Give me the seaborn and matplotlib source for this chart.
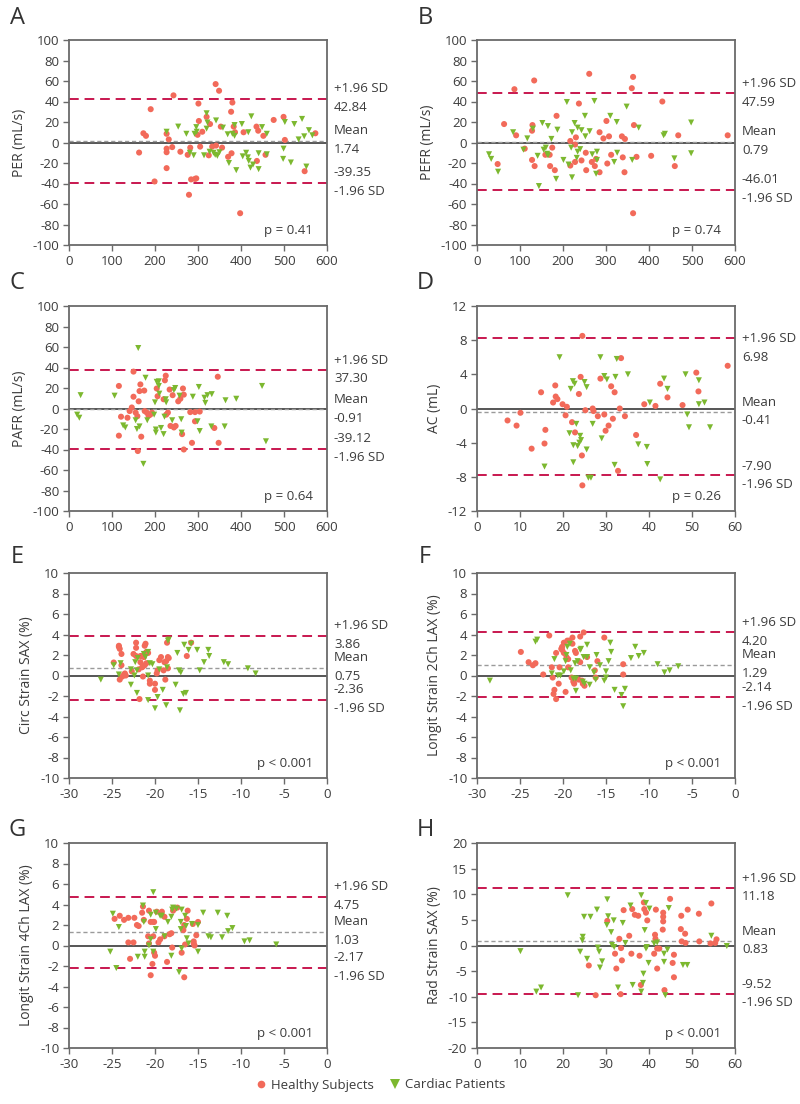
import numpy as np
import pandas as pd
import matplotlib
matplotlib.use("Agg")
import matplotlib.pyplot as plt
import matplotlib.transforms as mtransforms
from matplotlib.lines import Line2D
import seaborn as sns

# ---- panel A: PER ----
a_healthy_x = [163,173,179,190,199,227,227,227,227,232,240,243,259,276,279,282,284,293,296,299,301,302,305,310,320,325,328,333,341,342,349,353,356,370,377,378,380,383,386,398,406,436,437,440,452,457,476,499,502,548,573]
a_healthy_y = [-9.8,9,6.5,32.5,-38,8.5,-6,-9.5,-25,3,-4.5,46,-9,-12,-51,-5,-36,-35.5,-35,7.5,38,21,-4,10.5,25,-12.5,18,-4,57,-3,50.5,15.5,-5,-14,30,-10.5,39,15.5,10,-69,10,15.5,-18,11.5,6.5,-12,22,25,2.5,-28,9]
a_cardiac_x = [227,254,273,281,290,292,296,297,314,320,320,322,327,336,340,342,345,350,358,369,372,380,385,385,389,402,404,412,416,417,418,422,424,428,441,441,449,460,460,499,498,502,516,524,534,542,547,558,566,552]
a_cardiac_y = [10.5,15.5,8.5,-10,-12.5,8.5,15,10.5,-12.5,28.5,13.5,19.5,-9,-10,-12,21.5,-13,-9.5,14.5,8,-20,8.5,17,6.5,-27,18,-13.5,-10,-14.5,10,-18,-24.5,25.5,-21.5,-10.5,-26,15,-11.5,8.5,-6,-16,20,-19.5,18,3,23,6,12,7,-23.5]

# ---- panel B: PEFR ----
b_healthy_x = [48,63,87,91,111,128,129,128,133,134,159,169,170,175,181,185,217,217,228,228,230,237,243,253,254,261,267,274,277,285,285,294,301,303,307,312,337,339,344,343,360,363,363,365,371,405,431,460,468,583]
b_healthy_y = [-21,18,52,7,-6,11.5,17,-17,60.5,-23,-12,-12,-23,-5,-27,26,1.5,-22.5,-2,-19,5,38,-17.5,-10,-27,67,-19,-23,-16,10,-29,4,21,-20.5,6,-12,6,-14.5,3.5,-29,53,64,-69,17,-14,-13,40,-23,7,7]
b_cardiac_x = [28,33,49,84,108,117,130,152,155,160,165,165,163,144,141,173,184,187,201,209,213,219,221,221,227,232,234,234,240,243,251,252,262,268,273,279,279,277,310,325,326,319,348,361,376,434,437,459,498,498]
b_cardiac_y = [-11.5,-16,-28.5,10,-7,4,13.5,19,-7,-5,16,-12.5,-11,-42.5,-13,3.5,-35.5,12.5,-17,39.5,-21.5,-5,10,-34,19,-15,14.5,-9,-6.5,12,26,6,11,-11.5,40.5,-9,-17,-30.5,26,20,-10,-19,35,-17,14.5,7,8.5,-15.5,19.5,-10.5]

# ---- panel C: PAFR ----
c_healthy_x = [116,116,121,136,141,146,150,150,155,159,160,162,164,166,168,175,176,181,185,189,193,204,206,220,223,225,226,230,234,236,241,244,248,254,259,263,265,267,267,282,286,293,293,304,338,346,348]
c_healthy_y = [22,-26.5,-8,-9,-2.5,1,11.5,36,-4,-7.5,-41.5,7,17,23.5,-27.5,17.5,-2.5,-4,-7,-6,-4,19.5,12,9,27.5,32,-6,-4,18.5,-17,13,-18.5,-17,7,9.5,-25,19.5,13.5,-40,-3.5,-33.5,-12.5,-3.5,-3,-19,31,-33.5]
c_cardiac_x = [19,24,27,106,126,131,155,158,161,164,173,178,182,198,200,202,202,204,209,209,210,214,220,222,225,226,240,244,247,257,261,262,288,299,302,304,315,317,322,332,331,362,364,389,449,458]
c_cardiac_y = [-6,-9,13,12.5,-16.5,-18.5,-11.5,-20,59,-17.5,-54,30,-11.5,-6,6,-20.5,-23.5,26,26.5,22,14.5,-19,-25,-8,9,6,-11.5,18,20,12.5,-10.5,-23.5,11.5,-12.5,21,-22,10.5,5.5,13,14,-17.5,-17.5,8,9.5,22,-32]

# ---- panel D: AC ----
d_healthy_x = [7.1,9.2,10.1,12.7,14.9,15.7,15.9,17.7,18.2,18.3,18.7,19.9,20.6,20.9,22.1,22.8,23.7,24.1,24.4,24.5,24.5,25.2,26.9,27.1,28.1,28.7,29.6,29.9,30.6,31.2,31.6,32,32.8,33.2,33.5,34.4,37,38.9,41.5,42.6,44.3,47.8,51,51.5,58.3]
d_healthy_y = [-1.4,-2,-0.5,-4.7,1.9,-4.1,-2.5,0.7,2.7,1.4,1.1,0.5,-0.8,0.2,-1.6,-2.8,1.7,3.7,-5.5,8.5,-9,-0.2,0,-0.3,-0.9,3.5,-0.7,-2.6,-2,2.6,-1.2,1.9,-7.3,0,5.9,-0.9,-3.1,0.5,0.3,2.9,1.3,0.4,4.2,2,5]
d_cardiac_x = [15.7,19.2,21.5,21.8,22.3,22.4,22.4,22.7,23.1,23.4,23.8,24,24.2,25,25.5,25.5,25.9,26.5,26.9,28.7,29,29.6,30.2,32,32.2,32.5,35.1,37.5,39.5,39.6,40.2,42.6,43.5,44.3,48.5,48.9,49.3,51.6,51.6,52.9,54.2]
d_cardiac_y = [-6.8,6,-2.9,2.3,3.2,-6.3,-4.3,2.9,-1.8,-4.4,-4,-3.2,-3.7,3.1,2.5,-4.8,-8.1,-8.1,-1.8,6,-3.5,3.8,3.4,-6.6,3.7,5.8,4,-4.2,-4.5,-6.5,0.7,-8.3,3.5,2.3,4,-0.7,-2.2,3.3,0.5,0.7,-2.2]

# ---- panel E: circ strain SAX ----
e_healthy_x = [-24.8,-24.2,-24.2,-24.1,-24.1,-23.9,-23.9,-23.8,-23.6,-23.5,-23.4,-22.7,-22.5,-22.2,-22.2,-22.2,-21.9,-21.8,-21.7,-21.7,-21.5,-21.5,-21.4,-21.4,-21.3,-21.2,-21.2,-21.1,-21.0,-21.0,-20.8,-20.6,-20.6,-20.0,-20.0,-19.8,-19.7,-19.5,-19.3,-19.0,-18.9,-18.8,-18.7,-18.6,-18.5,-18.5,-18.4,-16.3,-15.8]
e_healthy_y = [1.27,2.8,2.9,2.6,-0.4,2.1,1.0,-0.1,0.1,0.2,0,0.4,2.1,1.9,2.7,3.2,0.6,-2.3,1.9,1.3,0.8,1.9,0.9,-0.1,1.8,2.9,1.0,3.1,2.3,1.2,2.2,-0.5,-0.8,-0.8,-1.4,0.2,0.5,1.5,1.8,0.5,1.3,-0.4,1.4,3.2,1.8,0.7,1.7,1.9,3.2]
e_cardiac_x = [-26.3,-24.8,-24.2,-24.0,-22.8,-22.8,-22.4,-22.3,-22.1,-22.1,-22.0,-21.3,-21.1,-20.8,-20.8,-20.8,-20.6,-20.3,-20.0,-19.7,-19.5,-19.1,-18.7,-18.6,-18.5,-18.4,-17.6,-17.4,-17.2,-17.0,-17.1,-16.7,-16.6,-16.4,-16.1,-15.8,-15.1,-14.8,-14.3,-13.8,-13.7,-12.0,-11.5,-9.2,-8.3]
e_cardiac_y = [-0.4,1.0,0.1,1.2,0.6,-0.9,0,1.3,-1.7,0.5,1.7,2.1,1.8,0,-2.4,2.3,1.2,1.1,-3.2,-2.1,0.6,-1.4,-2.9,0.8,3.4,3.5,-0.9,2.2,0.5,0.3,-3.4,-1.8,3.0,-1.7,2.5,3.1,2.5,0.5,1.3,2.5,1.9,1.3,1.1,0.7,0.2]

# ---- panel F: longit strain 2Ch LAX ----
f_healthy_x = [-24.9,-24.0,-23.5,-23.2,-22.3,-21.6,-21.3,-21.2,-21.1,-21.0,-20.8,-20.8,-20.5,-20.4,-20.2,-20.1,-20.1,-19.9,-19.9,-19.7,-19.6,-19.5,-19.4,-19.4,-19.3,-18.9,-18.9,-19.0,-18.8,-18.7,-18.6,-18.5,-18.2,-18.0,-18.0,-17.8,-17.7,-17.6,-17.5,-17.2,-16.3,-16.2,-16.0,-15.2,-13.0,-13.0]
f_healthy_y = [2.3,1.3,1.0,1.2,0.1,3.9,0.8,-0.2,-1.8,-1.4,-2.3,2.2,-0.8,0.8,2.6,2.5,2.8,2.2,3.2,-1.6,1.8,3.4,1.6,0.8,3.4,3.7,3.1,-0.2,-0.6,-0.8,2.4,2.2,-0.4,1.3,3.8,-0.5,-0.8,4.2,-1.0,1.8,0.5,-0.2,1.4,3.7,1.1,0.1]
f_cardiac_x = [-28.5,-23.2,-23.0,-21.3,-21.0,-20.6,-20.3,-19.9,-19.7,-19.6,-19.5,-19.2,-19.1,-18.8,-18.6,-18.5,-18.5,-18.3,-18.0,-17.9,-17.7,-17.6,-17.5,-17.2,-17.2,-16.9,-16.9,-16.4,-16.2,-16.1,-15.7,-15.2,-15.0,-15.0,-14.7,-14.5,-14.4,-14.0,-13.2,-13.0,-12.8,-12.1,-11.6,-11.2,-10.6,-9.0,-8.2,-7.6,-6.6]
f_cardiac_y = [-0.5,3.3,3.5,0.2,1.6,0,0,0.4,1.4,2.0,2.8,3.1,0.5,-0.3,1.2,-1.5,-0.3,1.4,2.5,2.6,-0.6,1.8,-0.8,1.8,3.0,0.8,-0.9,0.3,-0.4,2.0,1.0,-0.5,-0.2,0.4,1.4,3.2,2.3,-1.4,-1.9,-3.0,-1.3,1.7,2.8,1.9,2.2,1.1,0.3,0.5,0.9]

# ---- panel G: longit strain 4Ch LAX ----
g_healthy_x = [-24.7,-24.1,-23.6,-23.1,-23.1,-22.9,-22.5,-22.4,-22.1,-21.9,-21.5,-21.4,-21.3,-20.8,-20.7,-20.7,-20.5,-20.5,-20.3,-20.2,-20.2,-20.1,-20.1,-20.0,-19.8,-19.6,-19.4,-19.2,-18.9,-18.9,-18.6,-18.3,-18.1,-18.0,-17.9,-17.8,-17.4,-16.9,-16.7,-16.6,-16.6,-16.5,-16.3,-16.2,-15.6,-15.5,-15.5,-15.4,-15.2,-15.0]
g_healthy_y = [2.6,2.9,2.5,2.7,0.3,-1.3,0.3,2.7,2.0,1.9,3.2,3.8,2.5,0.9,3.4,0.2,2.3,-2.9,-1.8,0.9,2.3,2.3,-0.7,-1.0,3.3,0.3,0.6,3.3,2.8,0.9,-1.6,1.1,1.2,-0.2,3.4,3.6,3.7,-0.7,1.5,-3.1,2.0,0.1,2.6,3.4,2.1,0.2,0.4,0,1.0,2.3]
g_cardiac_x = [-25.2,-24.9,-24.5,-24.2,-22.0,-21.4,-21.3,-21.2,-21.2,-20.7,-20.5,-20.5,-20.2,-20.2,-19.9,-19.9,-19.4,-19.2,-18.9,-18.5,-18.1,-18.1,-18.0,-17.9,-17.5,-17.2,-16.9,-16.9,-17.0,-17.0,-16.5,-16.4,-16.3,-16.1,-15.7,-15.0,-15.0,-14.4,-13.8,-13.5,-12.7,-12.2,-11.6,-11.5,-11.0,-9.6,-9.0,-5.9]
g_cardiac_y = [-0.6,3.1,-2.2,1.8,-1.1,3.9,2.3,-0.6,-1.1,0,3.0,0.6,5.2,-0.6,1.6,3.2,2.9,2.9,0.9,2.3,-1.0,2.8,3.5,3.7,3.6,-2.6,3.5,-0.3,2.3,1.6,2.9,1.9,0.7,0.2,2.1,2.0,-0.6,3.2,0.9,0.8,3.2,0.8,2.9,1.4,1.7,0.4,0.5,0.1]

# ---- panel H: rad strain SAX ----
h_healthy_x = [26,27.6,30.3,32.4,33.1,33.4,33.5,33.7,32.1,34.1,35.4,35.9,36.1,36.7,37.5,37.8,38.1,38.8,38.9,39.3,39.6,41.2,41.4,41.5,41.6,41.9,41.9,42.4,43.3,43.3,43.3,43.2,43.6,44.9,45.5,45.8,45.8,47.5,47.4,47.6,48.4,48.5,49.0,51.7,51.6,54.3,54.5,55.4,55.7]
h_healthy_y = [-3.9,-9.7,4.8,-4.5,1.3,-9.5,-0.5,-2.9,-1.6,6.9,1.9,-1.6,7.1,6.0,5.8,-2,-7.7,8.4,7.1,6.4,4.9,-1.6,2.1,1.3,7.0,-4.5,-0.6,-0.6,6.4,5.6,4.7,3.1,-8.7,9.1,-3.4,-1.8,-6.2,5.8,3.2,0.8,2.3,0.5,7.0,0.8,6.2,0.4,8.2,0.5,1.2]
h_cardiac_x = [10.1,13.8,14.9,21.1,23.5,24,24.5,24.6,24.9,25.6,26.4,27.9,28.1,28.4,28.6,29.1,30.2,30.3,30.5,31.2,31.4,31.8,31.9,32.8,33.9,34.5,35.7,36.2,38.2,38.6,38.2,38.7,39.0,39.3,39.3,39.5,39.9,40.1,41.2,41.9,43.5,43.5,43.8,44.3,44.6,47.9,48.9,54.5,58.1]
h_cardiac_y = [-1.1,-9,-8.2,9.8,-9.7,-1.2,1.0,1.7,5.6,-2.6,5.6,7.0,-0.4,-1.2,-4.3,-3.1,4.0,9,5.7,2.6,0.1,4.9,-0.3,-8.2,4.4,0.5,7.8,-7.7,9.8,-7.3,-9,-5.5,3.0,8.3,-0.6,-0.3,-3.4,7.2,0.4,0.6,-1.6,-3.2,-9.7,-0.8,7.3,-3.8,-3.8,1.9,-0.1]

# ---- panel settings / stats ----
letters = ["A", "B", "C", "D", "E", "F", "G", "H"]
ylabels = ["PER (mL/s)", "PEFR (mL/s)", "PAFR (mL/s)", "AC (mL)",
           "Circ Strain SAX (%)", "Longit Strain 2Ch LAX (%)",
           "Longit Strain 4Ch LAX (%)", "Rad Strain SAX (%)"]
xlims = [(0, 600), (0, 600), (0, 600), (0, 60), (-30, 0), (-30, 0), (-30, 0), (0, 60)]
xsteps = [100, 100, 100, 10, 5, 5, 5, 10]
ylims = [(-100, 100), (-100, 100), (-100, 100), (-12, 12), (-10, 10), (-10, 10), (-10, 10), (-20, 20)]
ysteps = [20, 20, 20, 4, 2, 2, 2, 5]
upper_line = [42.84, 48.5, 37.3, 8.2, 3.86, 4.2, 4.75, 11.18]
mean_line = [1.74, 0.79, -0.91, -0.41, 0.75, 1.07, 1.36, 0.83]
lower_line = [-39.35, -46.01, -39.12, -7.8, -2.36, -2.14, -2.17, -9.52]
upper_text = ["42.84", "47.59", "37.30", "6.98", "3.86", "4.20", "4.75", "11.18"]
mean_text = ["1.74", "0.79", "-0.91", "-0.41", "0.75", "1.29", "1.03", "0.83"]
lower_text = ["-39.35", "-46.01", "-39.12", "-7.90", "-2.36", "-2.14", "-2.17", "-9.52"]
p_text = ["p = 0.41", "p = 0.74", "p = 0.64", "p = 0.26",
          "p < 0.001", "p < 0.001", "p < 0.001", "p < 0.001"]

healthy = [(a_healthy_x, a_healthy_y), (b_healthy_x, b_healthy_y), (c_healthy_x, c_healthy_y), (d_healthy_x, d_healthy_y),
           (e_healthy_x, e_healthy_y), (f_healthy_x, f_healthy_y), (g_healthy_x, g_healthy_y), (h_healthy_x, h_healthy_y)]
cardiac = [(a_cardiac_x, a_cardiac_y), (b_cardiac_x, b_cardiac_y), (c_cardiac_x, c_cardiac_y), (d_cardiac_x, d_cardiac_y),
           (e_cardiac_x, e_cardiac_y), (f_cardiac_x, f_cardiac_y), (g_cardiac_x, g_cardiac_y), (h_cardiac_x, h_cardiac_y)]

RED = "#F26A5A"
GREEN = "#7CB82F"
LOA = "#C8174F"
AXC = "#6A6A6A"
TXT = "#3C3C3C"

sns.set_theme(style="ticks")
plt.rcParams['font.family'] = ['Open Sans', 'DejaVu Sans']
plt.rcParams['axes.unicode_minus'] = False

fig = plt.figure(figsize=(8, 11.04), dpi=100)

col_left = [69 / 800, 477 / 800]
row_top = [40, 306, 573, 843]
letter_y = [18, 283, 557, 830]
W, H = 258 / 800, 205 / 1104

for i in range(8):
    r, c = i // 2, i % 2
    ax = fig.add_axes([col_left[c], 1 - (row_top[r] + 205) / 1104, W, H])

    hx, hy = healthy[i]
    cx, cy = cardiac[i]
    df = pd.concat([
        pd.DataFrame({"x": hx, "y": hy, "group": "Healthy Subjects"}),
        pd.DataFrame({"x": cx, "y": cy, "group": "Cardiac Patients"}),
    ])

    # zero, mean and limits of agreement
    ax.axhline(0, color="#555555", lw=1.4, zorder=1)
    ax.axhline(mean_line[i], color="#9A9A9A", lw=1.0, ls=(0, (3, 2)), zorder=1)
    ax.axhline(upper_line[i], color=LOA, lw=1.4, ls=(0, (5, 3)), zorder=1)
    ax.axhline(lower_line[i], color=LOA, lw=1.4, ls=(0, (5, 3)), zorder=1)

    sns.scatterplot(data=df, x="x", y="y", hue="group", style="group",
                    palette={"Healthy Subjects": RED, "Cardiac Patients": GREEN},
                    markers={"Healthy Subjects": "o", "Cardiac Patients": "v"},
                    s=19, linewidth=0, legend=False, ax=ax, zorder=3)

    ax.set_xlim(*xlims[i])
    ax.set_ylim(*ylims[i])
    ax.set_xticks(np.arange(xlims[i][0], xlims[i][1] + 0.1, xsteps[i]))
    ax.set_yticks(np.arange(ylims[i][0], ylims[i][1] + 0.1, ysteps[i]))
    ax.set_xlabel("")
    ax.set_ylabel(ylabels[i], fontsize=10, color=TXT, labelpad=4)
    ax.tick_params(axis="both", direction="out", length=4, width=1, color=AXC,
                   labelsize=9.5, labelcolor=TXT, pad=3)
    for sp in ax.spines.values():
        sp.set_visible(True)
        sp.set_color(AXC)
        sp.set_linewidth(1.3)

    trans = mtransforms.blended_transform_factory(ax.transAxes, ax.transData)
    kw = dict(xycoords=trans, textcoords="offset points", fontsize=9.5, color=TXT,
              ha="left", annotation_clip=False)
    up_anchor = float(upper_text[i])
    lo_anchor = float(lower_text[i])
    ax.annotate("+1.96 SD", xy=(1, up_anchor), xytext=(5, 2.5), va="bottom", **kw)
    ax.annotate(upper_text[i], xy=(1, up_anchor), xytext=(5, -1.5), va="top", **kw)
    ax.annotate("Mean", xy=(1, mean_line[i]), xytext=(5, 2.5), va="bottom", **kw)
    ax.annotate(mean_text[i], xy=(1, mean_line[i]), xytext=(5, -1.5), va="top", **kw)
    ax.annotate(lower_text[i], xy=(1, lo_anchor), xytext=(5, 2.5), va="bottom", **kw)
    ax.annotate("-1.96 SD", xy=(1, lo_anchor), xytext=(5, -1.5), va="top", **kw)

    ax.text(0.945, 0.07, p_text[i], transform=ax.transAxes, ha="right", va="center",
            fontsize=9.5, color=TXT)

    fig.text((17 if c == 0 else 425) / 800, 1 - letter_y[r] / 1104, letters[i],
             ha="center", va="center", fontsize=17, color="#333333")

handles = [
    Line2D([0], [0], marker="o", color="none", markerfacecolor=RED, markeredgewidth=0,
           markersize=5.5, label="Healthy Subjects"),
    Line2D([0], [0], marker="v", color="none", markerfacecolor=GREEN, markeredgewidth=0,
           markersize=6.5, label="Cardiac Patients"),
]
fig.legend(handles=handles, loc="center", bbox_to_anchor=(381 / 800, 19 / 1104), ncol=2,
           frameon=False, fontsize=9.5, handlelength=0.6, handletextpad=0.45,
           columnspacing=1.3, labelcolor=TXT)

fig.savefig("out.png", dpi=100)
